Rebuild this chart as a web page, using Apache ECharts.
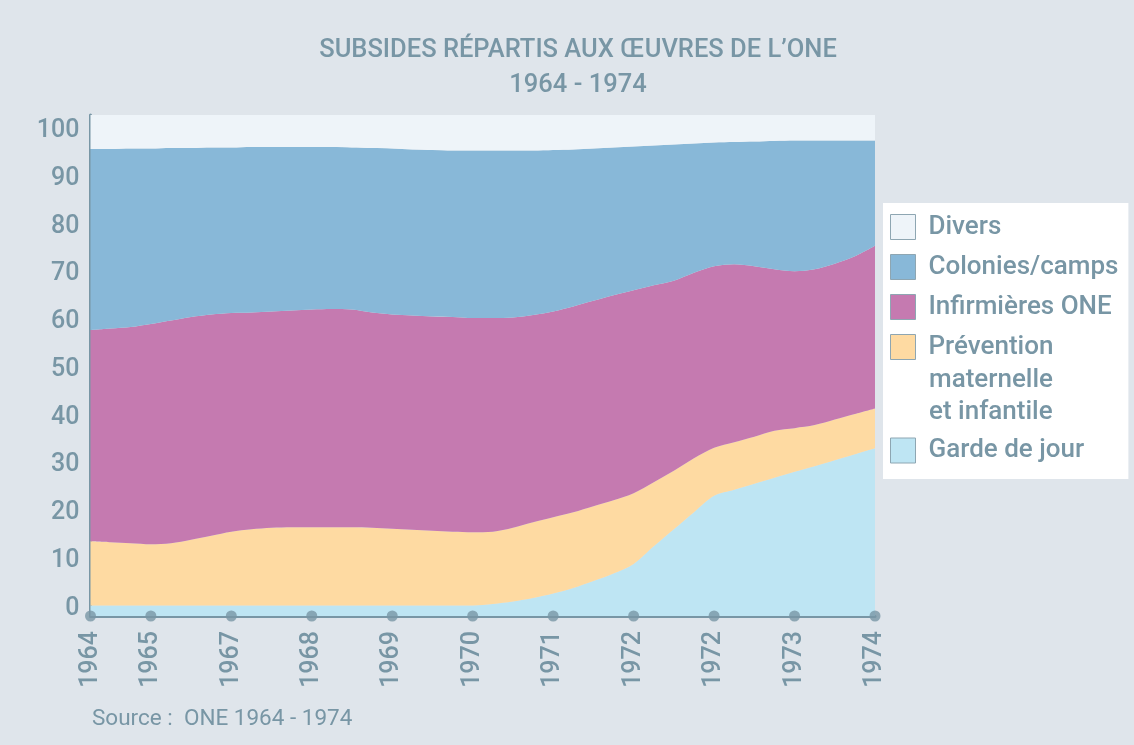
<!DOCTYPE html>
<html>
<head>
<meta charset="utf-8">
<title>Subsides répartis aux œuvres de l'ONE</title>
<script src="https://cdn.jsdelivr.net/npm/echarts@6/dist/echarts.min.js"></script>
<style>
  html, body { margin: 0; padding: 0; background: #dfe5eb; }
  #chart { width: 1134px; height: 745px; }
</style>
</head>
<body>
<div id="chart"></div>
<script>
// x axis is cut in quarter slots, year labels sit on some of them
const slotCount = 40;
const yearLabels = ['1964', '1965', '1967', '1968', '1969', '1970', '1971', '1972', '1972', '1973', '1974'];
const labelSlots = [0, 3, 7, 11, 15, 19, 23, 27, 31, 35, 39];
const yTicks = [0, 10, 20, 30, 40, 50, 60, 70, 80, 90, 100];

// shares (%) per slot, bottom to top of the stack
const garde = [2.1, 2.1, 2.1, 2.1, 2.1, 2.1, 2.1, 2.1, 2.1, 2.1,
  2.1, 2.1, 2.1, 2.1, 2.1, 2.1, 2.1, 2.1, 2.1, 2.1,
  2.4, 2.9, 3.6, 4.5, 5.6, 7.0, 8.5, 10.4, 13.9, 17.3,
  20.7, 24.0, 25.2, 26.4, 27.6, 28.8, 29.9, 31.1, 32.3, 33.5];
const prevention = [12.8, 12.6, 12.4, 12.2, 12.4, 13.1, 13.9, 14.7, 15.2, 15.5,
  15.6, 15.6, 15.6, 15.6, 15.5, 15.3, 15.1, 14.9, 14.7, 14.6,
  14.4, 14.7, 15.1, 15.2, 15.1, 14.9, 14.6, 14.1, 12.8, 11.7,
  10.8, 9.6, 9.5, 9.4, 9.4, 8.7, 8.2, 8.1, 8.0, 7.9];
const infirmieres = [42.2, 42.7, 43.2, 44.0, 44.5, 44.5, 44.2, 43.7, 43.3, 43.2,
  43.3, 43.5, 43.6, 43.5, 43.0, 42.8, 42.8, 42.8, 42.9, 42.8,
  42.7, 42.0, 41.4, 41.1, 41.1, 41.0, 40.9, 40.5, 39.3, 37.9,
  37.0, 36.2, 35.5, 34.0, 32.2, 31.3, 31.1, 31.1, 31.5, 32.5];
const colonies = [36.1, 35.8, 35.6, 35.0, 34.4, 33.7, 33.3, 33.0, 33.0, 32.8,
  32.6, 32.4, 32.3, 32.3, 32.8, 33.1, 33.1, 33.2, 33.2, 33.4,
  33.4, 33.3, 32.8, 32.2, 31.3, 30.4, 29.5, 28.7, 27.9, 27.2,
  25.8, 24.7, 24.4, 24.9, 25.6, 26.1, 25.7, 24.6, 23.1, 21.0];
const divers = [6.8, 6.8, 6.7, 6.7, 6.6, 6.6, 6.5, 6.5, 6.4, 6.4,
  6.4, 6.4, 6.4, 6.5, 6.6, 6.7, 6.9, 7.0, 7.1, 7.1,
  7.1, 7.1, 7.1, 7.0, 6.9, 6.7, 6.5, 6.3, 6.1, 5.9,
  5.7, 5.5, 5.4, 5.3, 5.2, 5.1, 5.1, 5.1, 5.1, 5.1];

const PREV_NAME = 'Prévention maternelle et infantile';
const textColor = '#7896a5';
const font = 'Roboto, "Open Sans", sans-serif';

// category per slot, label text only where a year is shown
const categories = [];
for (let i = 0; i < slotCount; i++) {
  const k = labelSlots.indexOf(i);
  categories.push(k >= 0 ? yearLabels[k] : '');
}

// y labels in the original sit a bit inside the 0-100 span
const yLabelOffset = 1.5;
const yLabelScale = 0.9535;

function areaSeries(name, data, color) {
  return {
    name: name,
    type: 'line',
    stack: 'total',
    data: data,
    smooth: 0.3,
    showSymbol: false,
    symbol: 'none',
    lineStyle: { width: 0 },
    itemStyle: { color: color },
    areaStyle: { color: color, opacity: 1 },
    silent: true
  };
}

const legendText = {
  color: textColor,
  fontSize: 26,
  fontWeight: 500,
  fontFamily: font,
  lineHeight: 32,
  padding: [0, 0, 0, 8]
};

const chart = echarts.init(document.getElementById('chart'));
chart.setOption({
  backgroundColor: '#dfe5eb',
  animation: false,
  textStyle: { fontFamily: font },
  title: [
    {
      text: 'SUBSIDES RÉPARTIS AUX ŒUVRES DE L\u2019ONE\n1964 - 1974',
      left: 578,
      top: 33.5,
      textAlign: 'center',
      padding: 0,
      textStyle: {
        color: textColor,
        fontSize: 25.5,
        fontWeight: 500,
        fontFamily: font,
        lineHeight: 35
      }
    },
    {
      text: 'Source :  ONE 1964 - 1974',
      left: 92,
      top: 708,
      padding: 0,
      textStyle: {
        color: textColor,
        fontSize: 22.5,
        fontWeight: 'normal',
        fontFamily: font
      }
    }
  ],
  legend: [
    {
      orient: 'vertical',
      left: 883,
      top: 203,
      padding: [8, 10, 116, 7],
      backgroundColor: '#ffffff',
      itemWidth: 25,
      itemHeight: 25,
      itemGap: 8,
      icon: 'rect',
      selectedMode: false,
      itemStyle: { borderColor: '#8ea6b2', borderWidth: 1 },
      textStyle: legendText,
      formatter: function (name) {
        return name === PREV_NAME ? 'Prévention' : name;
      },
      data: ['Divers', 'Colonies/camps', 'Infirmières ONE', PREV_NAME]
    },
    {
      orient: 'vertical',
      left: 883,
      top: 434.5,
      z: 6,
      padding: [0, 0, 0, 7],
      itemWidth: 25,
      itemHeight: 25,
      icon: 'rect',
      selectedMode: false,
      itemStyle: { borderColor: '#8ea6b2', borderWidth: 1 },
      textStyle: legendText,
      data: ['Garde de jour']
    }
  ],
  graphic: [
    {
      type: 'text',
      x: 929,
      y: 396,
      z: 10,
      style: {
        text: 'maternelle\net infantile',
        fill: textColor,
        font: '500 26px ' + font,
        lineHeight: 32,
        verticalAlign: 'middle'
      }
    }
  ],
  grid: {
    left: 90.5,
    right: 259,
    top: 115,
    bottom: 129,
    containLabel: false
  },
  xAxis: {
    type: 'category',
    data: categories,
    boundaryGap: false,
    axisLine: { lineStyle: { color: textColor, width: 3 } },
    axisTick: { show: false },
    splitLine: { show: false },
    axisLabel: {
      interval: function (index) { return labelSlots.indexOf(index) >= 0; },
      rotate: 90,
      margin: 15,
      color: textColor,
      fontSize: 25,
      fontWeight: 500,
      fontFamily: font
    }
  },
  yAxis: {
    type: 'value',
    min: 0,
    max: 100,
    axisLine: { show: true, lineStyle: { color: textColor, width: 3 } },
    axisTick: { show: false },
    splitLine: { show: false },
    axisLabel: {
      customValues: yTicks.map(function (t) { return yLabelOffset + t * yLabelScale; }),
      formatter: function (v) {
        return String(Math.round((v - yLabelOffset) / yLabelScale));
      },
      margin: 11,
      color: textColor,
      fontSize: 25,
      fontWeight: 500,
      fontFamily: font
    }
  },
  series: [
    areaSeries('Garde de jour', garde, '#bee5f3'),
    areaSeries(PREV_NAME, prevention, '#fedaa2'),
    areaSeries('Infirmières ONE', infirmieres, '#c57ab0'),
    areaSeries('Colonies/camps', colonies, '#88b8d8'),
    areaSeries('Divers', divers, '#eef4f9'),
    {
      type: 'scatter',
      data: labelSlots.map(function (s) { return [s, 0]; }),
      symbolSize: 11,
      clip: false,
      silent: true,
      z: 5,
      itemStyle: { color: textColor }
    }
  ]
});
</script>
</body>
</html>
